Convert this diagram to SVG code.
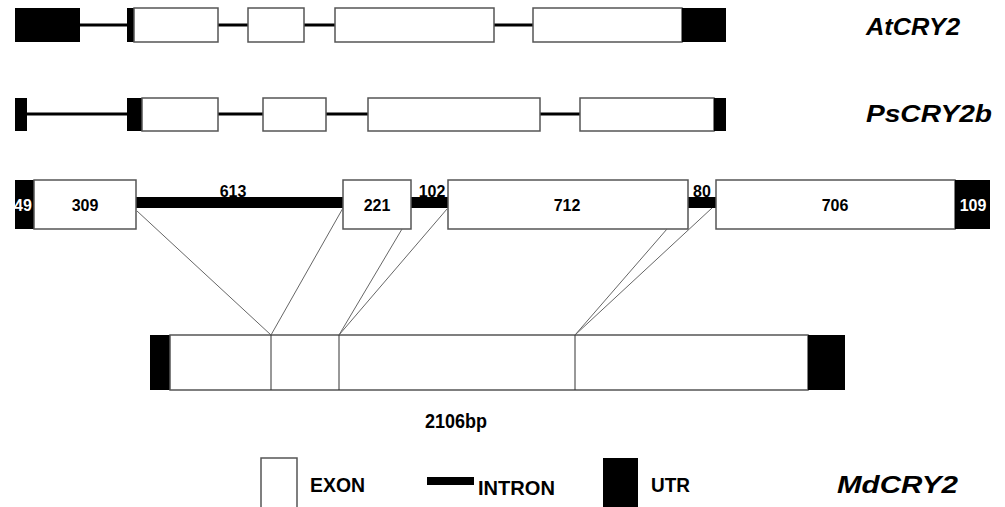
<svg xmlns="http://www.w3.org/2000/svg" width="1005" height="507" viewBox="0 0 1005 507">
<style>
.exon{fill:#fff;stroke:#555;stroke-width:1.5}
.utr{fill:#000}
.intron{stroke:#000;stroke-width:3}
.thick{fill:#000}
.num{font-family:"Liberation Sans",Arial,sans-serif;font-weight:bold;font-size:16px;text-anchor:middle}
.gene{font-family:"Liberation Sans",Arial,sans-serif;font-weight:bold;font-style:italic;font-size:23px}
.leg{font-family:"Liberation Sans",Arial,sans-serif;font-weight:bold;font-size:21px}
.conn{stroke:#666;stroke-width:1;fill:none}
</style>
<defs>
<clipPath id="c49"><rect x="15" y="180" width="19" height="49"/></clipPath>
</defs>
<rect width="1005" height="507" fill="#fff"/>
<g id="AtCRY2">
<line class="intron" x1="80" y1="25" x2="127" y2="25"/>
<line class="intron" x1="218" y1="25" x2="248" y2="25"/>
<line class="intron" x1="304" y1="25" x2="335" y2="25"/>
<line class="intron" x1="494" y1="25" x2="533" y2="25"/>
<rect class="utr" x="15" y="8" width="65" height="34"/>
<rect class="utr" x="127" y="8" width="7" height="34"/>
<rect class="exon" x="134" y="8" width="84" height="34"/>
<rect class="exon" x="248" y="8" width="56" height="34"/>
<rect class="exon" x="335" y="8" width="159" height="34"/>
<rect class="exon" x="533" y="8" width="149" height="34"/>
<rect class="utr" x="682" y="8" width="44" height="34"/>
<text class="gene" x="866" y="35" textLength="94" lengthAdjust="spacingAndGlyphs">AtCRY2</text>
</g>
<g id="PsCRY2b">
<line class="intron" x1="27" y1="114" x2="127" y2="114"/>
<line class="intron" x1="218" y1="114" x2="263" y2="114"/>
<line class="intron" x1="326" y1="114" x2="368" y2="114"/>
<line class="intron" x1="540" y1="114" x2="580" y2="114"/>
<rect class="utr" x="15" y="98" width="12" height="33"/>
<rect class="utr" x="127" y="98" width="15" height="33"/>
<rect class="exon" x="142" y="98" width="76" height="33"/>
<rect class="exon" x="263" y="98" width="63" height="33"/>
<rect class="exon" x="368" y="98" width="172" height="33"/>
<rect class="exon" x="580" y="98" width="134" height="33"/>
<rect class="utr" x="714" y="98" width="12" height="33"/>
<text class="gene" x="866" y="122" textLength="126" lengthAdjust="spacingAndGlyphs">PsCRY2b</text>
</g>
<g id="MdCRY2-genomic">
<rect class="thick" x="136" y="197" width="207" height="11"/>
<rect class="thick" x="411" y="197" width="37" height="11"/>
<rect class="thick" x="688" y="197" width="28" height="11"/>
<rect class="utr" x="15" y="180" width="19" height="49"/>
<rect class="exon" x="34" y="180" width="102" height="49"/>
<rect class="exon" x="343" y="180" width="68" height="49"/>
<rect class="exon" x="448" y="180" width="240" height="49"/>
<rect class="exon" x="716" y="180" width="239" height="49"/>
<rect class="utr" x="955" y="180" width="35" height="49"/>
<text class="num" x="23" y="211" fill="#fff" clip-path="url(#c49)">49</text>
<text class="num" x="85" y="211">309</text>
<text class="num" x="233" y="197">613</text>
<text class="num" x="377" y="211">221</text>
<text class="num" x="432" y="197">102</text>
<text class="num" x="567" y="211">712</text>
<text class="num" x="702" y="197">80</text>
<text class="num" x="835" y="211">706</text>
<text class="num" x="973" y="211" fill="#fff">109</text>
</g>
<g id="connectors">
<line class="conn" x1="137" y1="211" x2="271" y2="335"/>
<line class="conn" x1="343" y1="208" x2="271" y2="335"/>
<line class="conn" x1="402" y1="229" x2="339" y2="335"/>
<line class="conn" x1="447" y1="209" x2="339" y2="335"/>
<line class="conn" x1="667" y1="229" x2="575" y2="335"/>
<line class="conn" x1="712" y1="208" x2="575" y2="335"/>
</g>
<g id="MdCRY2-cDNA">
<rect class="utr" x="150" y="335" width="20" height="55"/>
<rect class="exon" x="170" y="335" width="638" height="55"/>
<rect class="utr" x="808" y="335" width="37" height="55"/>
<line x1="271" y1="335" x2="271" y2="390" stroke="#333" stroke-width="1"/>
<line x1="339" y1="335" x2="339" y2="390" stroke="#333" stroke-width="1"/>
<line x1="575" y1="335" x2="575" y2="390" stroke="#333" stroke-width="1"/>
<text class="leg" x="425" y="428" font-size="17" textLength="62" lengthAdjust="spacingAndGlyphs">2106bp</text>
</g>
<g id="legend">
<rect class="exon" x="261" y="458" width="36" height="52"/>
<text class="leg" x="310" y="492" textLength="55" lengthAdjust="spacingAndGlyphs">EXON</text>
<rect class="thick" x="427" y="477" width="47" height="8"/>
<text class="leg" x="478" y="495" textLength="77" lengthAdjust="spacingAndGlyphs">INTRON</text>
<rect class="utr" x="603" y="458" width="35" height="52"/>
<text class="leg" x="651" y="492" textLength="39" lengthAdjust="spacingAndGlyphs">UTR</text>
<text class="gene" x="837" y="493" font-size="24" textLength="121" lengthAdjust="spacingAndGlyphs">MdCRY2</text>
</g>
</svg>
